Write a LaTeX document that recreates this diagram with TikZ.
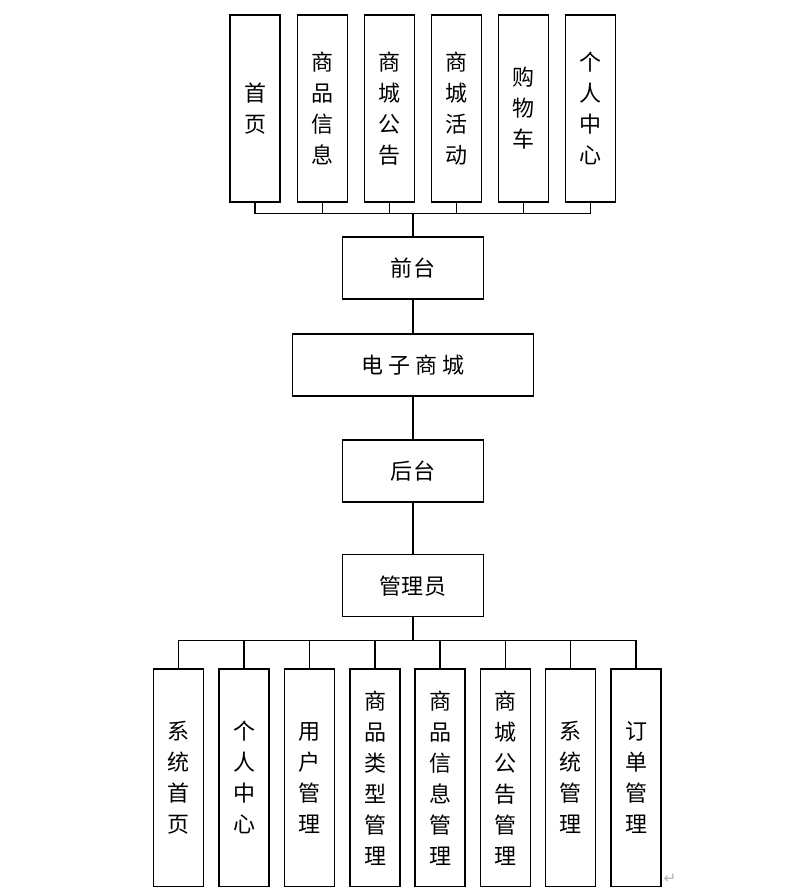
\documentclass[tikz,border=0pt]{standalone}
\usepackage{fontspec}
\setmainfont{Noto Sans CJK SC}
\newfontfamily\symfont{DejaVu Sans}
\begin{document}
\begin{tikzpicture}[x=1pt,y=-1pt,
  box/.style={draw,line width=1.1pt,inner sep=0pt,align=center,
    font=\fontsize{22}{31}\selectfont},
  vbox/.style={box,minimum width=50pt},
  topbox/.style={vbox,minimum height=187pt},
  botbox/.style={vbox,minimum height=217.7pt},
  hbox/.style={box,minimum width=140.6pt,minimum height=62pt},
  conn/.style={line width=1.1pt}]
\useasboundingbox (0,0) rectangle (791,894);
% top row
\node[topbox] (t1) at (255,108.5) {首\\页};
\node[topbox] (t2) at (322.3,108.5) {商\\品\\信\\息};
\node[topbox] (t3) at (389.3,108.5) {商\\城\\公\\告};
\node[topbox] (t4) at (456.7,108.5) {商\\城\\活\\动};
\node[topbox] (t5) at (523.7,108.5) {购\\物\\车};
\node[topbox] (t6) at (590.7,108.5) {个\\人\\中\\心};
% middle chain
\node[hbox] (qt) at (413,268) {前\hspace{2pt}台};
\node[hbox,minimum width=240.6pt] (dz) at (413,365) {电\hspace{5pt}子\hspace{5pt}商\hspace{5pt}城};
\node[hbox] (ht) at (413,471) {后\hspace{2pt}台};
\node[hbox] (gly) at (413,585.8) {管\hspace{1pt}理\hspace{1pt}员};
% bottom row
\node[botbox] (b1) at (178.3,777.8) {系\\统\\首\\页};
\node[botbox] (b2) at (244,777.8) {个\\人\\中\\心};
\node[botbox] (b3) at (309.3,777.8) {用\\户\\管\\理};
\node[botbox] (b4) at (375,777.8) {商\\品\\类\\型\\管\\理};
\node[botbox] (b5) at (440,777.8) {商\\品\\信\\息\\管\\理};
\node[botbox] (b6) at (505.3,777.8) {商\\城\\公\\告\\管\\理};
\node[botbox] (b7) at (570.7,777.8) {系\\统\\管\\理};
\node[botbox] (b8) at (636,777.8) {订\\单\\管\\理};
% paragraph mark
\node[text=gray!60,font=\symfont\fontsize{15}{15}\selectfont,inner sep=0pt] (pm) at (670,879) {↵};
% connectors top
\foreach \t in {t1,t2,t3,t4,t5,t6}
  \draw[conn] (\t.south) -- ++(0,11.3) -| (qt.north);
\draw[conn] (qt.south) -- (dz.north);
\draw[conn] (dz.south) -- (ht.north);
\draw[conn] (ht.south) -- (gly.north);
\foreach \b in {b1,b2,b3,b4,b5,b6,b7,b8}
  \draw[conn] (gly.south) -- ++(0,23.3) -| (\b.north);
\end{tikzpicture}
\end{document}
